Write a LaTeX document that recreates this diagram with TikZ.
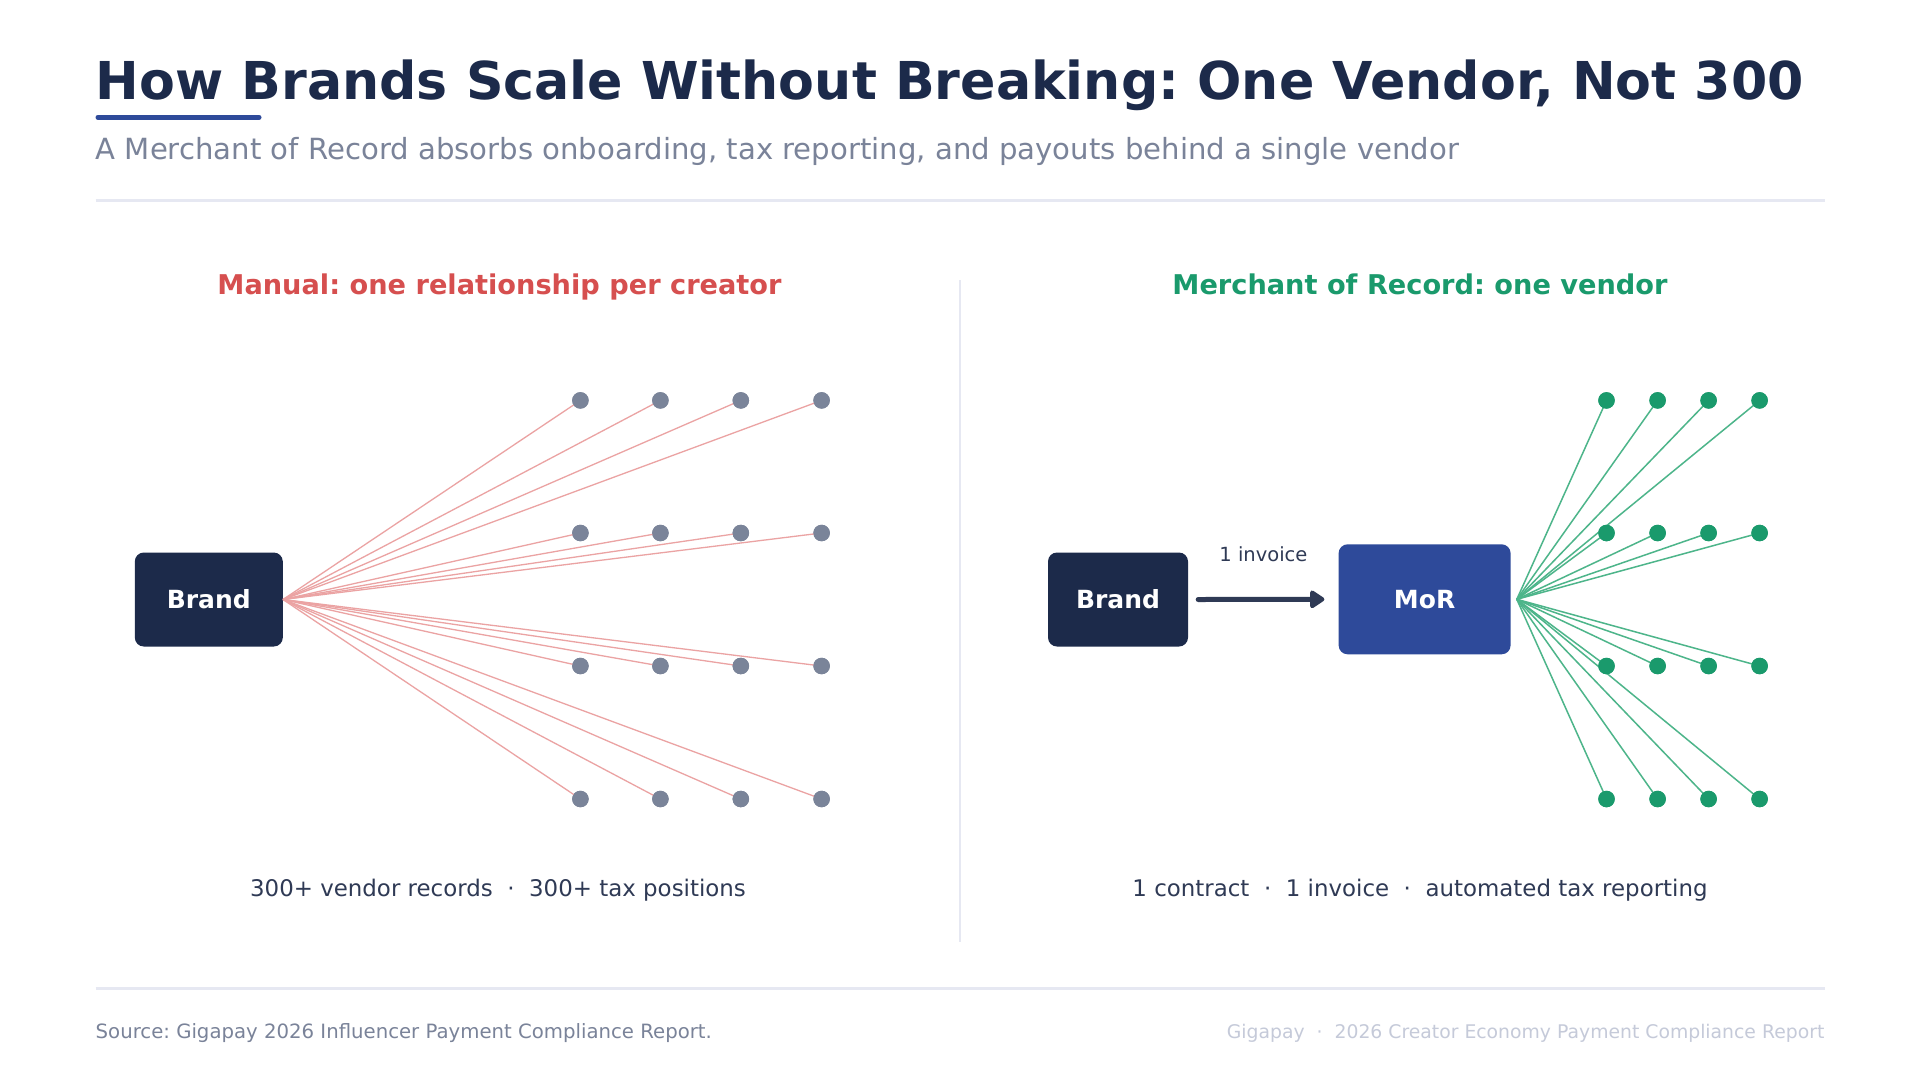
\documentclass[tikz,border=0pt]{standalone}
\usepackage{fontspec}
\setmainfont{DejaVu Sans}
\usetikzlibrary{arrows.meta}
\definecolor{navy}{HTML}{1C2A4A}
\definecolor{barblue}{HTML}{2E4A9A}
\definecolor{subgray}{HTML}{7A8399}
\definecolor{rulegray}{HTML}{E6E8F2}
\definecolor{redhead}{HTML}{D64F4F}
\definecolor{greenhead}{HTML}{1A9A6C}
\definecolor{dotgray}{HTML}{7A8499}
\definecolor{redln}{HTML}{EBA3A3}
\definecolor{greenln}{HTML}{4DB58A}
\definecolor{captxt}{HTML}{2F3A55}
\definecolor{footlight}{HTML}{C5CAD9}
\newcommand\setfs[1]{\fontsize{#1}{#1}\selectfont}
\frenchspacing
\begin{document}
\begin{tikzpicture}[x=1pt,y=-1pt,
  rulestyle/.style={draw=rulegray,line width=2.5pt},
  boxstyle/.style={rectangle,rounded corners=9pt,text=white,font=\bfseries\setfs{25},inner sep=0pt},
  headstyle/.style={anchor=base,inner sep=0pt,font=\bfseries\setfs{27.2}},
  captstyle/.style={anchor=base,inner sep=0pt,text=captxt,font=\setfs{22.9}},
  graydot/.style={circle,fill=dotgray,minimum size=16.5pt,inner sep=0pt},
  greendot/.style={circle,fill=greenhead,minimum size=16.5pt,inner sep=0pt},
  redline/.style={draw=redln,line width=1.3pt},
  greenline/.style={draw=greenln,line width=1.5pt},
  arrowstyle/.style={draw=captxt,line width=5pt,line cap=round,-{Triangle[round,length=16pt,width=20pt]}}
]
\useasboundingbox[fill=white] (0,0) rectangle (1920,1080);

% title block
\node[anchor=base west,inner sep=0pt,text=navy,font=\bfseries\setfs{52.2}] (title) at (95.5,99) {How Brands Scale Without Breaking: One Vendor, Not 300};
\draw[draw=barblue,line width=5pt,line cap=round] (98,117.3) -- (259,117.3);
\node[anchor=base west,inner sep=0pt,text=subgray,font=\setfs{29.15}] (subtitle) at (95.5,159.2) {A Merchant of Record absorbs onboarding, tax reporting, and payouts behind a single vendor};
\draw[rulestyle] (95.5,200.5) -- (1824.5,200.5);

% divider
\draw[draw=rulegray,line width=2pt] (960,280) -- (960,941.7);

% headings
\node[headstyle,text=redhead] (headL) at (499.5,294.8) {Manual: one relationship per creator};
\node[headstyle,text=greenhead] (headR) at (1420,294.8) {Merchant of Record: one vendor};

% left panel
\node[boxstyle,fill=navy,minimum width=148pt,minimum height=94pt] (brandL) at (208.8,599.5) {Brand};
\foreach \c/\x in {1/580.4,2/660.4,3/740.8,4/821.6}{
  \foreach \r/\y in {1/400.4,2/533,3/666,4/799}{
    \node[graydot] (L\r\c) at (\x,\y) {};
  }
}
\foreach \r in {1,...,4}{
  \foreach \c in {1,...,4}{
    \draw[redline] (brandL.east) -- (L\r\c.center);
  }
}
\foreach \c/\x in {1/580.4,2/660.4,3/740.8,4/821.6}{
  \foreach \r/\y in {1/400.4,2/533,3/666,4/799}{
    \fill[dotgray] (\x,\y) circle (8.25);
  }
}

% right panel
\node[boxstyle,fill=navy,minimum width=140pt,minimum height=94pt] (brandR) at (1118,599.5) {Brand};
\node[boxstyle,fill=barblue,minimum width=172pt,minimum height=110pt] (mor) at (1424.6,599.3) {MoR};
\draw[arrowstyle] ([xshift=10pt]brandR.east) -- ([xshift=-14pt]mor.west);
\node[anchor=base,inner sep=0pt,text=captxt,font=\setfs{19.5}] (invoice) at (1263.4,561) {1 invoice};
\coordinate (hub) at ([xshift=6pt]mor.east);
\foreach \c/\x in {1/1606.5,2/1657.6,3/1708.6,4/1759.6}{
  \foreach \r/\y in {1/400.4,2/533,3/666,4/799}{
    \node[greendot] (R\r\c) at (\x,\y) {};
  }
}
\foreach \r in {1,...,4}{
  \foreach \c in {1,...,4}{
    \draw[greenline] (hub) -- (R\r\c.center);
  }
}
\foreach \c/\x in {1/1606.5,2/1657.6,3/1708.6,4/1759.6}{
  \foreach \r/\y in {1/400.4,2/533,3/666,4/799}{
    \fill[greenhead] (\x,\y) circle (8.25);
  }
}

% captions
\node[captstyle] (captL) at (498,896.3) {300+ vendor records\ \ ·\ \ 300+ tax positions};
\node[captstyle] (captR) at (1420,896.3) {1 contract\ \ ·\ \ 1 invoice\ \ ·\ \ automated tax reporting};

% footer
\draw[rulestyle] (95.5,988.3) -- (1824.5,988.3);
\node[anchor=base west,inner sep=0pt,text=subgray,font=\setfs{19.7}] (source) at (95.5,1038) {Source: Gigapay 2026 Influencer Payment Compliance Report.};
\node[anchor=base east,inner sep=0pt,text=footlight,font=\setfs{18.8}] (brandline) at (1824.5,1038) {Gigapay\ \ ·\ \ 2026 Creator Economy Payment Compliance Report};
\end{tikzpicture}
\end{document}
